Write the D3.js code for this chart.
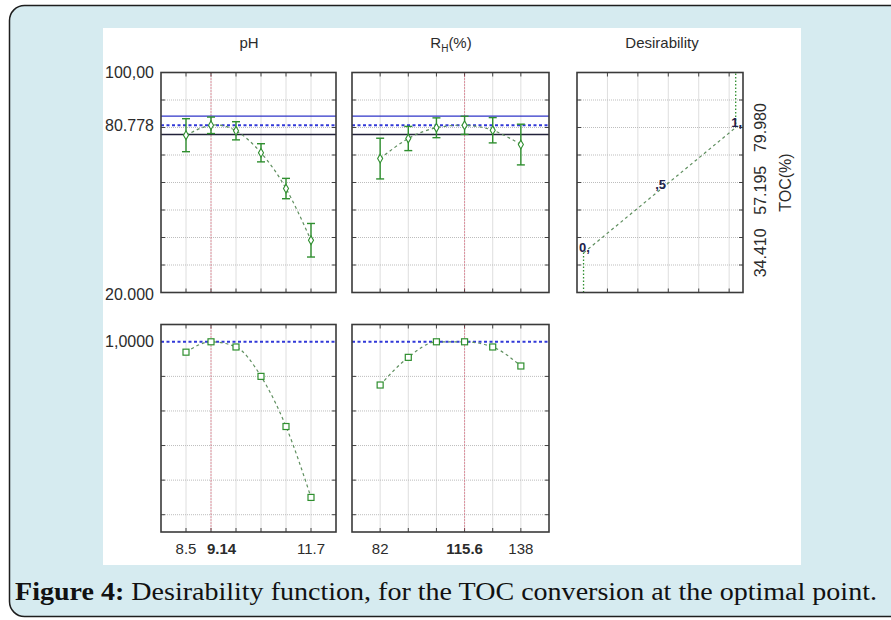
<!DOCTYPE html>
<html>
<head>
<meta charset="utf-8">
<script src="https://cdn.jsdelivr.net/npm/d3@7"></script>
<style>
  html, body { margin: 0; padding: 0; background: #fff; }
  svg { display: block; }
  text { font-family: "Liberation Sans", Arial, sans-serif; fill: #2b2b2b; }
</style>
</head>
<body>
<svg id="chart" width="891" height="620"></svg>
<script>
// factor levels
var phLevels = [8.5, 9.14, 9.78, 10.42, 11.06, 11.7];
var rhLevels = [82, 93.2, 104.4, 115.6, 126.8, 138];

// predicted TOC (%) with half-width of confidence bars
var phToc = [77.2, 80.8, 78.8, 70.8, 57.8, 39.0];
var phErr = [6.0, 3.0, 3.3, 3.3, 3.7, 6.1];
var rhToc = [68.7, 76.0, 79.9, 80.8, 79.0, 73.8];
var rhErr = [7.4, 4.4, 3.6, 3.3, 4.6, 7.4];

// desirability at each level
var phDes = [0.94, 1.0, 0.97, 0.80, 0.51, 0.10];
var rhDes = [0.75, 0.91, 1.0, 1.0, 0.97, 0.86];

// optimum
var phOpt = 9.14, rhOpt = 115.6;
var tocOpt = 80.778, tocUpper = 84.11, tocLower = 77.45;

// desirability function for TOC
var desVal = [0, 0.5, 1];
var desToc = [34.41, 57.195, 79.98];
var desLabels = ['0,', ',5', '1,'];
var desGrid = [0.157, 0.357, 0.557, 0.757, 0.957];

var tocGrid = [30, 40, 50, 60, 70, 80, 90];
var dGrid = [0, 0.2, 0.4, 0.6, 0.8];

var svg = d3.select('#chart');

// outer caption frame
svg.append('rect')
  .attr('x', 9.5).attr('y', 5.5).attr('width', 900).attr('height', 611)
  .attr('rx', 15).attr('fill', '#d6ebf0').attr('stroke', '#1e1e1e').attr('stroke-width', 1.5);
svg.append('rect')
  .attr('x', 103).attr('y', 28).attr('width', 698).attr('height', 537).attr('fill', '#fff');

var cols = [[161, 336], [352, 549], [577, 743]];
var rowTop = [72.5, 292.5], rowBot = [324.5, 532];

var yToc = d3.scaleLinear().domain([20, 100]).range([rowTop[1], rowTop[0]]);
var yDes = d3.scaleLinear().domain([-0.1, 1.1]).range([rowBot[1], rowBot[0]]);
var xPh = d3.scaleLinear().domain([7.86, 12.34]).range(cols[0]);
var xRh = d3.scaleLinear().domain([70.8, 149.2]).range(cols[1]);
var xD = d3.scaleLinear().domain([-0.043, 1.048]).range(cols[2]);

var green = '#2f8f2f', curveCol = '#5f8f5f', red = '#d9415a', gridCol = '#bdbdbd';

function panel(x, y, xTicks, yTicks) {
  var g = svg.append('g');
  var x0 = x.range()[0], x1 = x.range()[1], y0 = y.range()[1], y1 = y.range()[0];
  g.selectAll('.vg').data(xTicks).join('line')
    .attr('x1', function(d) { return x(d); }).attr('x2', function(d) { return x(d); })
    .attr('y1', y0).attr('y2', y1)
    .attr('stroke', gridCol).attr('stroke-width', 1).attr('stroke-dasharray', '1,1');
  g.selectAll('.hg').data(yTicks).join('line')
    .attr('x1', x0).attr('x2', x1)
    .attr('y1', function(d) { return y(d); }).attr('y2', function(d) { return y(d); })
    .attr('stroke', gridCol).attr('stroke-width', 1).attr('stroke-dasharray', '1,1');
  // inner tick marks
  [y0, y1].forEach(function(yy, i) {
    g.selectAll(null).data(xTicks).join('line')
      .attr('x1', function(d) { return x(d); }).attr('x2', function(d) { return x(d); })
      .attr('y1', yy).attr('y2', yy + (i === 0 ? 4 : -4))
      .attr('stroke', '#444');
  });
  [x0, x1].forEach(function(xx, i) {
    g.selectAll(null).data(yTicks).join('line')
      .attr('y1', function(d) { return y(d); }).attr('y2', function(d) { return y(d); })
      .attr('x1', xx).attr('x2', xx + (i === 0 ? 4 : -4))
      .attr('stroke', '#444');
  });
  return g;
}

function frame(x, y) {
  svg.append('rect')
    .attr('x', x.range()[0]).attr('y', y.range()[1])
    .attr('width', x.range()[1] - x.range()[0]).attr('height', y.range()[0] - y.range()[1])
    .attr('fill', 'none').attr('stroke', '#3a3a3a').attr('stroke-width', 1.6);
}

function tocPanel(x, levels, toc, err, opt) {
  panel(x, yToc, levels, tocGrid);
  var x0 = x.range()[0], x1 = x.range()[1];
  svg.append('line').attr('x1', x(opt)).attr('x2', x(opt))
    .attr('y1', rowTop[0]).attr('y2', rowTop[1])
    .attr('stroke', red).attr('stroke-dasharray', '1,2');
  svg.append('line').attr('x1', x0).attr('x2', x1)
    .attr('y1', yToc(tocUpper)).attr('y2', yToc(tocUpper))
    .attr('stroke', '#2f35c8').attr('stroke-width', 1.3);
  svg.append('line').attr('x1', x0).attr('x2', x1)
    .attr('y1', yToc(tocLower)).attr('y2', yToc(tocLower))
    .attr('stroke', '#22223a').attr('stroke-width', 1.3);
  svg.append('line').attr('x1', x0).attr('x2', x1)
    .attr('y1', yToc(tocOpt)).attr('y2', yToc(tocOpt))
    .attr('stroke', '#3138d8').attr('stroke-width', 2).attr('stroke-dasharray', '3,2.5');

  var pts = levels.map(function(l, i) { return [x(l), yToc(toc[i])]; });
  svg.append('path').attr('d', d3.line().curve(d3.curveNatural)(pts))
    .attr('fill', 'none').attr('stroke', curveCol).attr('stroke-width', 1.2)
    .attr('stroke-dasharray', '3,3');

  var eb = svg.append('g').attr('stroke', green).attr('stroke-width', 1.4);
  levels.forEach(function(l, i) {
    var cx = x(l), yt = yToc(toc[i] + err[i]), yb = yToc(toc[i] - err[i]);
    eb.append('line').attr('x1', cx).attr('x2', cx).attr('y1', yt).attr('y2', yb);
    eb.append('line').attr('x1', cx - 4).attr('x2', cx + 4).attr('y1', yt).attr('y2', yt);
    eb.append('line').attr('x1', cx - 4).attr('x2', cx + 4).attr('y1', yb).attr('y2', yb);
  });
  svg.append('g').selectAll('path').data(pts).join('path')
    .attr('d', d3.symbol(d3.symbolDiamond, 22))
    .attr('transform', function(d) { return 'translate(' + d[0] + ',' + d[1] + ')'; })
    .attr('fill', '#fff').attr('stroke', green).attr('stroke-width', 1.1);
  frame(x, yToc);
}

function desPanel(x, levels, des, opt) {
  panel(x, yDes, levels, dGrid);
  var x0 = x.range()[0], x1 = x.range()[1];
  svg.append('line').attr('x1', x(opt)).attr('x2', x(opt))
    .attr('y1', rowBot[0]).attr('y2', rowBot[1])
    .attr('stroke', red).attr('stroke-dasharray', '1,2');
  svg.append('line').attr('x1', x0).attr('x2', x1)
    .attr('y1', yDes(1)).attr('y2', yDes(1))
    .attr('stroke', '#3138d8').attr('stroke-width', 2).attr('stroke-dasharray', '3,2.5');
  var pts = levels.map(function(l, i) { return [x(l), yDes(des[i])]; });
  svg.append('path').attr('d', d3.line().curve(d3.curveMonotoneX)(pts))
    .attr('fill', 'none').attr('stroke', curveCol).attr('stroke-width', 1.2)
    .attr('stroke-dasharray', '3,3');
  svg.append('g').selectAll('rect').data(pts).join('rect')
    .attr('x', function(d) { return d[0] - 3; }).attr('y', function(d) { return d[1] - 3; })
    .attr('width', 6).attr('height', 6)
    .attr('fill', '#fff').attr('stroke', green).attr('stroke-width', 1.2);
  frame(x, yDes);
}

tocPanel(xPh, phLevels, phToc, phErr, phOpt);
tocPanel(xRh, rhLevels, rhToc, rhErr, rhOpt);
desPanel(xPh, phLevels, phDes, phOpt);
desPanel(xRh, rhLevels, rhDes, rhOpt);

// desirability function panel
panel(xD, yToc, desGrid, tocGrid);
var dPts = desVal.map(function(v, i) { return [xD(v), yToc(desToc[i])]; });
svg.append('line').attr('x1', dPts[0][0]).attr('x2', dPts[0][0])
  .attr('y1', yToc(20)).attr('y2', dPts[0][1])
  .attr('stroke', green).attr('stroke-width', 1.3).attr('stroke-dasharray', '1.5,2');
svg.append('line').attr('x1', dPts[2][0]).attr('x2', dPts[2][0])
  .attr('y1', dPts[2][1]).attr('y2', yToc(100))
  .attr('stroke', green).attr('stroke-width', 1.3).attr('stroke-dasharray', '1.5,2');
svg.append('path').attr('d', d3.line()(dPts))
  .attr('fill', 'none').attr('stroke', curveCol).attr('stroke-width', 1.2)
  .attr('stroke-dasharray', '3,3');
svg.append('g').selectAll('text').data(dPts).join('text')
  .attr('x', function(d) { return d[0] + 1; }).attr('y', function(d) { return d[1] - 1; })
  .attr('text-anchor', 'middle').attr('font-size', 13).attr('font-weight', 'bold')
  .style('fill', '#22224a')
  .text(function(d, i) { return desLabels[i]; });
frame(xD, yToc);

// panel titles
var titles = svg.append('g').attr('font-size', 15).attr('text-anchor', 'middle');
titles.append('text').attr('x', 249).attr('y', 48).text('pH');
var rh = titles.append('text').attr('x', 451).attr('y', 48);
rh.append('tspan').text('R');
rh.append('tspan').attr('font-size', 10).attr('dy', 4).text('H');
rh.append('tspan').attr('dy', -4).text('(%)');
titles.append('text').attr('x', 662).attr('y', 48).text('Desirability');

// left axis labels
var left = svg.append('g').attr('font-size', 16).attr('text-anchor', 'end');
left.append('text').attr('x', 154).attr('y', yToc(100) + 5).text('100,00');
left.append('text').attr('x', 154).attr('y', yToc(tocOpt) + 6).text('80.778');
left.append('text').attr('x', 154).attr('y', yToc(20) + 7).text('20.000');
left.append('text').attr('x', 154).attr('y', yDes(1) + 5).text('1,0000');

// bottom axis labels
function bottomLabels(x, levels, opt) {
  var shown = [levels[0], opt, levels[levels.length - 1]];
  svg.append('g').attr('font-size', 15).selectAll('text').data(shown).join('text')
    .attr('x', function(d) { return d === opt && opt === phOpt ? x(d) - 4 : x(d); })
    .attr('y', 554)
    .attr('text-anchor', function(d) { return d === opt && opt === phOpt ? 'start' : 'middle'; })
    .attr('font-weight', function(d) { return d === opt ? 'bold' : 'normal'; })
    .text(function(d) { return String(d); });
}
bottomLabels(xPh, phLevels, phOpt);
bottomLabels(xRh, rhLevels, rhOpt);

// right axis labels (rotated)
var right = svg.append('g').attr('font-size', 16).attr('text-anchor', 'middle');
desToc.forEach(function(v) {
  right.append('text')
    .attr('transform', 'translate(766,' + yToc(v) + ') rotate(-90)')
    .text(v.toFixed(3));
});
right.append('text').attr('transform', 'translate(791,' + yToc(60) + ') rotate(-90)').text('TOC(%)');

// caption
var cap = svg.append('text').attr('x', 15).attr('y', 600)
  .attr('font-size', 25).attr('textLength', 862).attr('lengthAdjust', 'spacingAndGlyphs')
  .style('font-family', '"Liberation Serif", "DejaVu Serif", serif').style('fill', '#111');
cap.append('tspan').attr('font-weight', 'bold').text('Figure 4:');
cap.append('tspan').text(' Desirability function, for the TOC conversion at the optimal point.');
</script>
</body>
</html>
